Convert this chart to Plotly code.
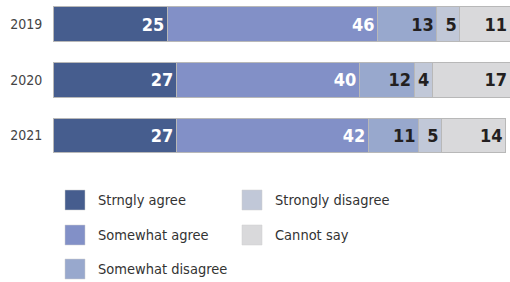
import plotly.graph_objects as go

years = ["2019", "2020", "2021"]
series_names = ["Strngly agree", "Somewhat agree", "Somewhat disagree", "Strongly disagree", "Cannot say"]
strongly_agree = [25, 27, 27]
somewhat_agree = [46, 40, 42]
somewhat_disagree = [13, 12, 11]
strongly_disagree = [5, 4, 5]
cannot_say = [11, 17, 14]
series_values = [strongly_agree, somewhat_agree, somewhat_disagree, strongly_disagree, cannot_say]

colors = ["#465d8e", "#8290c7", "#98a8cd", "#c1c8d8", "#d9d9db"]
text_colors = ["#ffffff", "#ffffff", "#231f20", "#231f20", "#231f20"]

W, H = 510, 282
FONT = "DejaVu Sans Condensed, Liberation Sans Narrow, Roboto, sans-serif"

fig = go.Figure()
for name, vals, c, tc in zip(series_names, series_values, colors, text_colors):
    fig.add_trace(go.Bar(
        y=years, x=vals, name=name, orientation="h",
        marker=dict(color=c, line=dict(color="#b8b8b8", width=1)),
        text=[str(v) for v in vals], textposition="inside",
        insidetextanchor="end", textangle=0,
        textfont=dict(family=FONT, size=18, color=tc, weight="bold"),
        constraintext="none", showlegend=False, hoverinfo="skip",
    ))

# manual legend (column-major, two columns)
legend_pos = [(65, 190), (65, 225), (65, 259), (242, 190), (242, 225)]
for (px, py), name, c in zip(legend_pos, series_names, colors):
    fig.add_shape(type="rect", xref="paper", yref="paper",
                  x0=px / W, x1=(px + 20) / W, y0=1 - py / H, y1=1 - (py + 20) / H,
                  fillcolor=c, line=dict(color="#cfcfcf", width=0.5))
    fig.add_annotation(xref="paper", yref="paper", x=(px + 31) / W, y=1 - (py + 10) / H,
                       text=name, showarrow=False, xanchor="left", yanchor="middle",
                       font=dict(family=FONT, size=14.5, color="#333333"))

fig.update_layout(
    width=W, height=H, barmode="stack", bargap=0.37,
    margin=dict(l=0, r=0, t=0, b=0),
    plot_bgcolor="white", paper_bgcolor="white",
    xaxis=dict(domain=[53 / W, 1], range=[0, 100], visible=False, fixedrange=True),
    yaxis=dict(domain=[(H - 170) / H, 1], range=[2.622, -0.441], type="category",
               showgrid=False, zeroline=False, showline=False, fixedrange=True,
               ticks="outside", ticklen=7, tickcolor="rgba(0,0,0,0)",
               tickfont=dict(family=FONT, size=14, color="#444444")),
    uniformtext=dict(mode=False),
)

fig.write_html("out.html", config={"displayModeBar": False},
               post_script="document.body.style.margin='0';")
